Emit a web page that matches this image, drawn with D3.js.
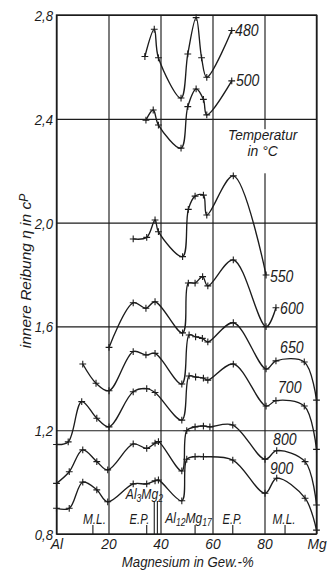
<!DOCTYPE html>
<html><head><meta charset="utf-8">
<script src="https://cdn.jsdelivr.net/npm/d3@7"></script>
<style>
html,body{margin:0;padding:0;background:#fff;}
svg{display:block;}
text{font-family:"Liberation Sans",Arial,sans-serif;font-style:italic;fill:#1c1c1c;}
</style></head><body>
<svg id="c" width="334" height="570"></svg>
<script>
// ---------- data ----------
const xTicks=[0,20,40,60,80,100];
const xTickLabels=["Al","20","40","60","80","Mg"];
const yTicks=[0.8,1.2,1.6,2.0,2.4,2.8];
const yTickLabels=["0,8","1,2","1,6","2,0","2,4","2,8"];
const temperatures=[480,500,550,600,650,700,800,900];

const mg480=[34.0,37.6,39.2,47.9,50.5,53.7,55.8,57.8,67.4];
const eta480=[2.64,2.745,2.635,2.48,2.65,2.79,2.635,2.56,2.74];

const mg500=[34.4,37.2,39.2,47.9,50.5,53.7,56.5,57.8,67.4];
const eta500=[2.395,2.434,2.376,2.287,2.447,2.515,2.475,2.415,2.546];

const mg550=[29.5,34.7,37.9,39.2,48.5,50.7,53.3,56.5,57.8,68.0,80.6];
const eta550=[1.937,1.943,2.010,1.965,1.869,2.051,2.102,2.106,2.029,2.180,1.798];

const mg600=[20.2,29.5,34.4,37.9,48.5,50.7,53.3,56.2,58.2,68.0,80.6,84.4];
const eta600=[1.519,1.691,1.670,1.695,1.575,1.767,1.767,1.792,1.756,1.856,1.599,1.672];

const mg650=[10.1,15.2,20.2,29.5,34.4,37.9,48.2,51.0,53.5,56.1,58.2,68.0,80.6,84.4,95.3,100];
const eta650=[1.455,1.381,1.352,1.503,1.490,1.496,1.378,1.567,1.560,1.554,1.540,1.614,1.436,1.467,1.463,1.316];

const mg700=[0,4.5,9.7,15.5,20.2,29.5,34.7,37.9,48.2,51.0,53.5,56.5,58.2,68.0,80.6,84.4,95.3,100];
const eta700=[1.145,1.155,1.310,1.246,1.213,1.348,1.36,1.345,1.239,1.409,1.405,1.401,1.393,1.455,1.293,1.314,1.293,1.126];

const mg800=[0,4.9,10.1,15.5,19.7,29.5,34.7,37.9,39.2,48.2,50.1,53.3,56.5,59.0,67.8,80.2,84.7,95.6,100];
const eta800=[0.995,1.040,1.124,1.079,1.047,1.147,1.130,1.150,1.156,1.043,1.198,1.213,1.216,1.213,1.22,1.088,1.121,1.079,0.912];

const mg900=[0,4.9,10.1,15.5,19.7,29.5,34.7,37.9,39.2,48.2,50.1,53.3,56.5,67.8,80.2,84.7,95.6,100];
const eta900=[0.899,0.899,1.0,0.970,0.924,0.993,0.993,1.005,1.008,0.928,1.088,1.098,1.098,1.085,0.957,1.015,0.938,0.815];

const phaseNames=["M.L.","E.P.","Al3Mg2","Al12Mg17","E.P.","M.L."];
const phaseMg=[14.0,34.7,37.6,53.3,67.8,87.9];

// ---------- layout ----------
const ink="#1c1c1c";
const x=d3.scaleLinear().domain([0,100]).range([56.5,316.5]);
const y=d3.scaleLinear().domain([0.8,2.8]).range([534,15]);
const svg=d3.select("#c");
svg.append("rect").attr("width",334).attr("height",570).attr("fill","#fff");

function txt(parent,px,py,s,size,anchor,sx){
  return parent.append("text").attr("transform",`translate(${px},${py}) scale(${sx||1},1)`)
    .attr("font-size",size).attr("text-anchor",anchor||"start").text(s);
}

// grid via axes
const plotW=x(100)-x(0), plotH=y(0.8)-y(2.8);
const gx=svg.append("g").attr("transform",`translate(0,${y(0.8)})`)
  .call(d3.axisBottom(x).tickValues(xTicks).tickSize(-plotH).tickFormat((d,i)=>xTickLabels[i]));
gx.select(".domain").remove();
gx.selectAll("line").attr("stroke",ink).attr("stroke-width",1.15);
gx.selectAll("text").attr("y",0).attr("dy",0).attr("font-family",null)
  .attr("transform","translate(0,15) scale(0.92,1)").style("font-size","15px").attr("fill",ink);

const gy=svg.append("g").attr("transform",`translate(${x(0)},0)`)
  .call(d3.axisLeft(y).tickValues(yTicks).tickSize(-plotW).tickFormat((d,i)=>yTickLabels[i]));
gy.select(".domain").remove();
gy.selectAll("line").attr("stroke",ink).attr("stroke-width",1.15);
gy.selectAll("text").attr("x",0).attr("dy",0).attr("font-family",null)
  .attr("transform","translate(-3.5,5.5) scale(0.88,1)").style("font-size","15px").attr("fill",ink);

// frame
svg.append("rect").attr("x",x(0)).attr("y",y(2.8)).attr("width",plotW).attr("height",plotH)
  .attr("fill","none").attr("stroke",ink).attr("stroke-width",1.4);

// "Temperatur in °C" with white backing
const tx=x(79.3);
svg.append("rect").attr("x",tx-36).attr("y",y(2.36)).attr("width",72).attr("height",y(2.19)-y(2.36)).attr("fill","#fff");
txt(svg,tx,140,"Temperatur",15.5,"middle",0.88);
txt(svg,tx,156,"in °C",15.5,"middle",0.9);

// phase markers
const phaseTop=[525,525,501,525,525,525];
phaseMg.forEach((m,i)=>{
  svg.append("line").attr("x1",x(m)).attr("x2",x(m)).attr("y1",y(0.8)).attr("y2",phaseTop[i])
    .attr("stroke",ink).attr("stroke-width",1.1);
});
svg.append("line").attr("x1",x(38.8)).attr("x2",x(38.8)).attr("y1",y(0.8)).attr("y2",501)
  .attr("stroke",ink).attr("stroke-width",1.1);
txt(svg,x(14.6),524,"M.L.",15.5,"middle",0.76);
txt(svg,x(31.9),524,"E.P.",15.5,"middle",0.72);
txt(svg,x(67.6),524,"E.P.",15.5,"middle",0.72);
txt(svg,x(87.5),524,"M.L.",15.5,"middle",0.76);
function chem(px,py,parts){
  const t=svg.append("text").attr("transform",`translate(${px},${py}) scale(0.78,1)`)
    .attr("font-size",15.5).attr("text-anchor","middle");
  parts.forEach(p=>{
    t.append("tspan").attr("font-size",p[1]?11:15.5).attr("dy",p[1]?3:(p[2]||0)).text(p[0]);
  });
  return t;
}
chem(x(33.8),499,[["Al"],["3",1],["Mg",0,-3],["2",1]]);
chem(x(50.8),523,[["Al"],["12",1],["Mg",0,-3],["17",1]]);

// curves
const series=[
  {t:480,mg:mg480,eta:eta480},{t:500,mg:mg500,eta:eta500},
  {t:550,mg:mg550,eta:eta550},{t:600,mg:mg600,eta:eta600},
  {t:650,mg:mg650,eta:eta650},{t:700,mg:mg700,eta:eta700},
  {t:800,mg:mg800,eta:eta800},{t:900,mg:mg900,eta:eta900}
];
const line=d3.line().x(d=>x(d[0])).y(d=>y(d[1])).curve(d3.curveCatmullRom.alpha(0.5));
const gc=svg.append("g");
series.forEach(s=>{
  const pts=s.mg.map((m,i)=>[m,s.eta[i]]);
  gc.append("path").attr("d",line(pts)).attr("fill","none").attr("stroke",ink).attr("stroke-width",1.35);
  gc.selectAll(null).data(pts).enter().append("path")
    .attr("transform",d=>`translate(${x(d[0])},${y(d[1])})`)
    .attr("d","M-3.4,0H3.4M0,-3.4V3.4").attr("stroke",ink).attr("stroke-width",1.1);
});

// curve labels
const labelAt={480:[68.7,2.719],500:[69.0,2.526],550:[82.1,1.771],600:[86.0,1.648],
  650:[86.0,1.497],700:[85.2,1.343],800:[83.3,1.143],900:[82.1,1.031]};
temperatures.forEach(t=>{
  txt(svg,x(labelAt[t][0]),y(labelAt[t][1]),String(t),16,"start",0.88);
});

// axis titles
txt(svg,x(50.5),567,"Magnesium in Gew.-%",15,"middle",0.88);
const yt=svg.append("text").attr("transform",`translate(31,${271}) rotate(-90)`)
  .attr("font-size",15.5).attr("text-anchor","middle");
yt.append("tspan").text("innere Reibung η in c");
yt.append("tspan").attr("font-size",12).attr("dy",-3).text("P");
</script>
</body></html>
